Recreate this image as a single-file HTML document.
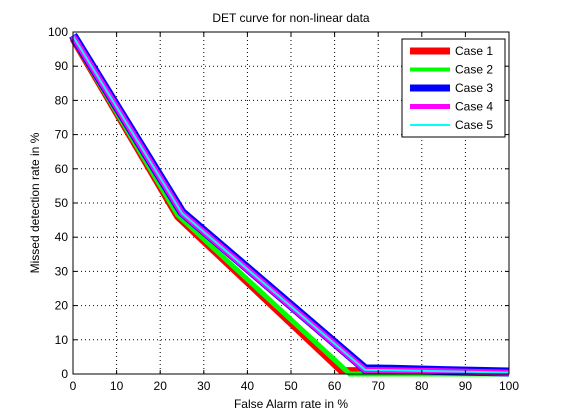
<!DOCTYPE html>
<html><head><meta charset="utf-8"><style>
body{margin:0;background:#fff;font-family:"Liberation Sans",sans-serif}
svg{display:block}
text{font-family:"Liberation Sans",sans-serif;font-size:12px;fill:#000}
</style></head><body>
<svg width="561" height="420" id="c">
<rect x="0" y="0" width="561" height="420" fill="#fff"/>
<rect x="73" y="32" width="436" height="342" fill="#fff"/>
<g id="grid"></g>
<g id="series"></g>
<rect x="73" y="32" width="436" height="342" fill="none" stroke="#000" stroke-width="1"/>
<g id="ticks"></g>
<text x="291" y="22" text-anchor="middle">DET curve for non-linear data</text>
<text x="291" y="408" text-anchor="middle">False Alarm rate in %</text>
<text transform="translate(39,203) rotate(-90)" text-anchor="middle">Missed detection rate in %</text>
<g id="legend"></g>
</svg>
<script>
const xTicks=[0,10,20,30,40,50,60,70,80,90,100];
const yTicks=[0,10,20,30,40,50,60,70,80,90,100];
const seriesNames=["Case 1","Case 2","Case 3","Case 4","Case 5"];
const case1X=[0,24,61.5,63,100];
const case1Y=[98,46,1,1,0.8];
const case2X=[0,24,63.5,100];
const case2Y=[98,46.5,0,0];
const case3X=[0,25,67,73,85,100];
const case3Y=[99,47.3,1.5,1.4,1,0.6];
const case4X=[0,25,67,73,85,100];
const case4Y=[98.8,47,1.2,1.1,0.8,0.4];
const case5X=[0,25,67,73,85,100];
const case5Y=[98.8,47,1.2,1.1,0.8,0.4];
const colors=["#ff0000","#00ff00","#0000ff","#ff00ff","#00ffff"];
const widths=[7,5,9,6,2];
const NS="http://www.w3.org/2000/svg";
const sx=v=>73+v*4.36, sy=v=>374-v*3.42;
function mk(t,a,p){const e=document.createElementNS(NS,t);for(const k in a)e.setAttribute(k,a[k]);p.appendChild(e);return e;}
const grid=document.getElementById('grid'),ticks=document.getElementById('ticks');
xTicks.forEach(v=>{
 if(v>0&&v<100){const g=mk('line',{x1:sx(v),x2:sx(v),y1:32,y2:374,stroke:'#000','stroke-dasharray':'1,3'},grid);
 
 }
 const t1=mk('line',{x1:sx(v),x2:sx(v),y1:374,y2:370,stroke:'#000'},ticks);
 
 
 const t2=mk('line',{x1:sx(v),x2:sx(v),y1:32,y2:36,stroke:'#000'},ticks);
 
 
 const l=mk('text',{x:sx(v),y:390,'text-anchor':'middle'},ticks);l.textContent=v;
 
 
});
yTicks.forEach(v=>{
 if(v>0&&v<100){const g=mk('line',{x1:73,x2:509,y1:sy(v),y2:sy(v),stroke:'#000','stroke-dasharray':'1,3'},grid);
 
 }
 const t1=mk('line',{x1:73,x2:77,y1:sy(v),y2:sy(v),stroke:'#000'},ticks);
 
 
 const t2=mk('line',{x1:505,x2:509,y1:sy(v),y2:sy(v),stroke:'#000'},ticks);
 
 
 const l=mk('text',{x:68,y:sy(v)+4,'text-anchor':'end'},ticks);l.textContent=v;
 
 
});
const sr=document.getElementById('series');
const allX=[case1X,case2X,case3X,case4X,case5X],allY=[case1Y,case2Y,case3Y,case4Y,case5Y];
allX.forEach((xs,i)=>{
 const pts=xs.map((x,j)=>sx(x)+','+sy(allY[i][j])).join(' ');
 const p=mk('polyline',{points:pts,fill:'none',stroke:colors[i],'stroke-width':widths[i],'stroke-linejoin':'miter'},sr);
 
 
});
const lg=document.getElementById('legend');
const box=mk('rect',{x:402,y:39,width:103,height:98,fill:'#fff',stroke:'#000'},lg);


const lw=[7,4,7,5,2];
seriesNames.forEach((n,i)=>{
 const y=51+i*18.5;
 const l=mk('line',{x1:410,x2:450,y1:y,y2:y,stroke:colors[i],'stroke-width':lw[i]},lg);
 
 
 const t=mk('text',{x:455,y:y+4},lg);t.textContent=n;
 
 
});
</script>
</body></html>
